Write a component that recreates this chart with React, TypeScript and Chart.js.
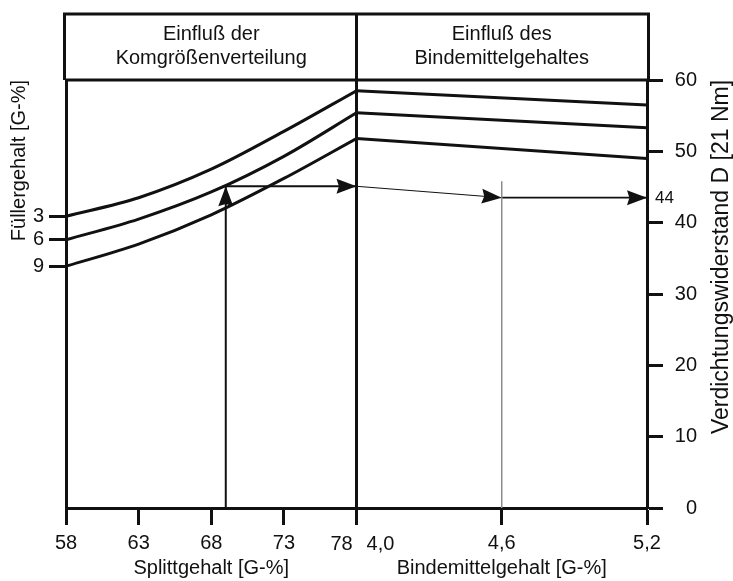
import React, { useEffect, useRef } from 'react';
import { Chart, registerables } from 'chart.js';

Chart.register(...registerables);

const FONT = '"Liberation Sans", Arial, Helvetica, sans-serif';
const INK = '#111111';

// Left panel: Splittgehalt [G-%] vs. Verdichtungswiderstand, one curve per Füllergehalt
const splittTicks = [58, 63, 68, 73, 78];
const splittCurveX = [58, 63, 68, 73, 78];
const fueller3 = [40.9, 43.5, 47.5, 52.8, 58.5];
const fueller6 = [37.6, 40.5, 44.3, 49.3, 55.4];
const fueller9 = [33.9, 37.0, 41.1, 46.2, 51.8];
const fuellerLabels = ['3', '6', '9'];

// Right panel: Bindemittelgehalt [G-%]
const binderTicks = [4.0, 4.6, 5.2];
const binderLineX = [4.0, 5.2];
const binder3 = [58.5, 56.5];
const binder6 = [55.4, 53.3];
const binder9 = [51.8, 49.0];

// Verdichtungswiderstand D axis
const dTicks = [0, 10, 20, 30, 40, 50, 60];

// Worked example path
const exampleSplitt = 69.0;
const exampleD1 = 45.1;
const exampleBinder = 4.6;
const exampleD2 = 43.5;
const exampleGuideTop = 45.8;
const exampleResult = '44';

const headerLeft = ['Einfluß der', 'Komgrößenverteilung'];
const headerRight = ['Einfluß des', 'Bindemittelgehaltes'];
const titleSplitt = 'Splittgehalt [G-%]';
const titleBinder = 'Bindemittelgehalt [G-%]';
const titleFueller = 'Füllergehalt [G-%]';
const titleD = 'Verdichtungswiderstand D [21 Nm]';

const fmtDe = (v: number) => v.toFixed(1).replace('.', ',');

const arrowPlugin = {
  id: 'arrowHeads',
  afterDatasetsDraw(chart: any) {
    const ctx = chart.ctx;
    chart.data.datasets.forEach((ds: any, i: number) => {
      if (!ds.arrowHead) return;
      const pts = chart.getDatasetMeta(i).data;
      const a = pts[pts.length - 2];
      const b = pts[pts.length - 1];
      const ang = Math.atan2(b.y - a.y, b.x - a.x);
      const L = 20;
      const W = 15;
      ctx.save();
      ctx.translate(b.x, b.y);
      ctx.rotate(ang);
      ctx.fillStyle = INK;
      ctx.beginPath();
      ctx.moveTo(0, 0);
      ctx.lineTo(-L, -W / 2);
      ctx.lineTo(-L * 0.88, 0);
      ctx.lineTo(-L, W / 2);
      ctx.closePath();
      ctx.fill();
      ctx.restore();
    });
  },
};

const framePlugin = {
  id: 'nomogramFrame',
  afterDraw(chart: any) {
    const ctx = chart.ctx;
    const area = chart.chartArea;
    const xL = chart.scales.xL;
    const xR = chart.scales.xR;
    const y = chart.scales.y;
    const mid = xL.getPixelForValue(78);
    const hTop = area.top - 66;
    ctx.save();
    ctx.strokeStyle = INK;
    ctx.lineWidth = 3;
    ctx.beginPath();
    ctx.moveTo(area.left - 1.5, area.top);
    ctx.lineTo(area.left - 1.5, hTop);
    ctx.lineTo(area.right + 1.5, hTop);
    ctx.lineTo(area.right + 1.5, area.top);
    ctx.moveTo(area.left, area.top);
    ctx.lineTo(area.right, area.top);
    ctx.moveTo(mid, hTop);
    ctx.lineTo(mid, area.bottom);
    ctx.stroke();

    ctx.fillStyle = INK;
    ctx.textAlign = 'center';
    ctx.textBaseline = 'middle';
    ctx.font = `20px ${FONT}`;
    const lc = (area.left + mid) / 2;
    const rc = (mid + area.right) / 2;
    headerLeft.forEach((t, i) => ctx.fillText(t, lc, hTop + 20 + i * 24));
    headerRight.forEach((t, i) => ctx.fillText(t, rc, hTop + 20 + i * 24));

    // shifted tick labels at the shared divider
    const labY = area.bottom + 36;
    ctx.fillText(String(splittTicks[splittTicks.length - 1]), xL.getPixelForValue(78) - 15, labY);
    ctx.fillText(fmtDe(binderTicks[0]), xR.getPixelForValue(binderTicks[0]) + 24, labY);

    // result label
    ctx.font = `17px ${FONT}`;
    ctx.textAlign = 'left';
    ctx.fillText(exampleResult, area.right + 8, y.getPixelForValue(exampleD2) + 1);

    // right axis title, reading upwards
    ctx.font = `23px ${FONT}`;
    ctx.textAlign = 'center';
    ctx.translate(area.right + 75, (area.top + area.bottom) / 2 - 37);
    ctx.rotate(-Math.PI / 2);
    ctx.fillText(titleD, 0, 0);
    ctx.restore();
  },
};

const curve = (xs: number[], ys: number[]) => xs.map((x, i) => ({ x, y: ys[i] }));

export default function App() {
  const ref = useRef<HTMLCanvasElement | null>(null);

  useEffect(() => {
    if (!ref.current) return;
    const black = INK;
    const curveStyle = {
      borderColor: black,
      borderWidth: 3,
      pointRadius: 0,
      fill: false,
      cubicInterpolationMode: 'monotone' as const,
      xAxisID: 'xL',
      yAxisID: 'y',
    };
    const lineStyle = {
      borderColor: black,
      borderWidth: 3,
      pointRadius: 0,
      fill: false,
      xAxisID: 'xR',
      yAxisID: 'y',
    };
    const fuellerStart = [fueller3[0], fueller6[0], fueller9[0]];

    const chart = new Chart(ref.current, {
      type: 'line',
      data: {
        datasets: [
          { ...curveStyle, label: 'Füller 3', data: curve(splittCurveX, fueller3) },
          { ...curveStyle, label: 'Füller 6', data: curve(splittCurveX, fueller6) },
          { ...curveStyle, label: 'Füller 9', data: curve(splittCurveX, fueller9) },
          { ...lineStyle, label: 'Binder 3', data: curve(binderLineX, binder3) },
          { ...lineStyle, label: 'Binder 6', data: curve(binderLineX, binder6) },
          { ...lineStyle, label: 'Binder 9', data: curve(binderLineX, binder9) },
          {
            label: 'guide 4,6',
            data: [{ x: exampleBinder, y: exampleGuideTop }, { x: exampleBinder, y: 0 }],
            borderColor: '#8c8c8c', borderWidth: 1.5, pointRadius: 0, xAxisID: 'xR', yAxisID: 'y',
          },
          {
            label: 'arrow up',
            data: [{ x: exampleSplitt, y: 0 }, { x: exampleSplitt, y: exampleD1 }],
            borderColor: black, borderWidth: 2, pointRadius: 0, xAxisID: 'xL', yAxisID: 'y',
            arrowHead: true,
          } as any,
          {
            label: 'arrow right 1',
            data: [{ x: exampleSplitt, y: exampleD1 }, { x: 78, y: exampleD1 }],
            borderColor: black, borderWidth: 2, pointRadius: 0, xAxisID: 'xL', yAxisID: 'y',
            arrowHead: true,
          } as any,
          {
            label: 'arrow diag',
            data: [{ x: binderTicks[0], y: exampleD1 }, { x: exampleBinder, y: exampleD2 }],
            borderColor: black, borderWidth: 1, pointRadius: 0, xAxisID: 'xR', yAxisID: 'y',
            arrowHead: true,
          } as any,
          {
            label: 'arrow right 2',
            data: [{ x: exampleBinder, y: exampleD2 }, { x: binderTicks[2], y: exampleD2 }],
            borderColor: black, borderWidth: 1.7, pointRadius: 0, xAxisID: 'xR', yAxisID: 'y',
            arrowHead: true,
          } as any,
        ],
      },
      options: {
        animation: false,
        responsive: false,
        devicePixelRatio: 1,
        events: [],
        layout: { padding: { top: 80, left: 0, right: 36, bottom: 0 } },
        plugins: { legend: { display: false }, tooltip: { enabled: false } },
        scales: {
          xL: {
            type: 'linear', position: 'bottom', stack: 'bottom', stackWeight: 1,
            min: 58, max: 78,
            afterBuildTicks: (s: any) => { s.ticks = splittTicks.map((v) => ({ value: v })); },
            ticks: {
              callback: (v: any) => (v === 78 ? '' : String(v)),
              color: INK, font: { family: FONT, size: 20 }, padding: 6,
              maxRotation: 0, autoSkip: false,
            },
            grid: { drawOnChartArea: false, tickLength: 17, tickWidth: 3, tickColor: INK },
            border: { display: true, width: 3, color: INK },
            title: {
              display: true, text: titleSplitt, color: INK,
              font: { family: FONT, size: 20, lineHeight: 1.2 }, padding: { top: 0, bottom: 1 },
            },
            afterFit: (s: any) => { s.height = 73; },
          },
          xR: {
            type: 'linear', position: 'bottom', stack: 'bottom', stackWeight: 1,
            min: 4.0, max: 5.2,
            afterBuildTicks: (s: any) => { s.ticks = binderTicks.map((v) => ({ value: v })); },
            ticks: {
              callback: (v: any) => (Math.abs(v - 4.0) < 1e-9 ? '' : fmtDe(v)),
              color: INK, font: { family: FONT, size: 20 }, padding: 6,
              maxRotation: 0, autoSkip: false,
            },
            grid: { drawOnChartArea: false, tickLength: 17, tickWidth: 3, tickColor: INK },
            border: { display: true, width: 3, color: INK },
            title: {
              display: true, text: titleBinder, color: INK,
              font: { family: FONT, size: 20, lineHeight: 1.2 }, padding: { top: 0, bottom: 1 },
            },
            afterFit: (s: any) => { s.height = 73; },
          },
          yL: {
            type: 'linear', position: 'left', min: 0, max: 60,
            afterBuildTicks: (s: any) => { s.ticks = fuellerStart.map((v) => ({ value: v })); },
            ticks: {
              callback: (_v: any, i: number) => fuellerLabels[i],
              color: INK, font: { family: FONT, size: 20 }, padding: 5,
            },
            grid: { drawOnChartArea: false, tickLength: 17, tickWidth: 3, tickColor: INK },
            border: { display: true, width: 3, color: INK },
            title: {
              display: true, text: titleFueller, align: 'end', color: INK,
              font: { family: FONT, size: 20, lineHeight: 1.2 }, padding: { top: 7, bottom: 0 },
            },
            afterFit: (s: any) => { s.width = 66; },
          },
          y: {
            type: 'linear', position: 'right', min: 0, max: 60,
            afterBuildTicks: (s: any) => { s.ticks = dTicks.map((v) => ({ value: v })); },
            ticks: {
              color: INK, font: { family: FONT, size: 20 }, padding: 12, crossAlign: 'far',
            },
            grid: { drawOnChartArea: false, tickLength: 16, tickWidth: 3, tickColor: INK },
            border: { display: true, width: 3, color: INK },
            afterFit: (s: any) => { s.width = 50; },
          },
        },
      } as any,
      plugins: [arrowPlugin, framePlugin],
    });
    return () => chart.destroy();
  }, []);

  return (
    <div style={{ position: 'absolute', left: 0, top: 0, width: 733, height: 581, background: '#fff' }}>
      <canvas ref={ref} width={733} height={581} style={{ display: 'block' }} />
    </div>
  );
}
